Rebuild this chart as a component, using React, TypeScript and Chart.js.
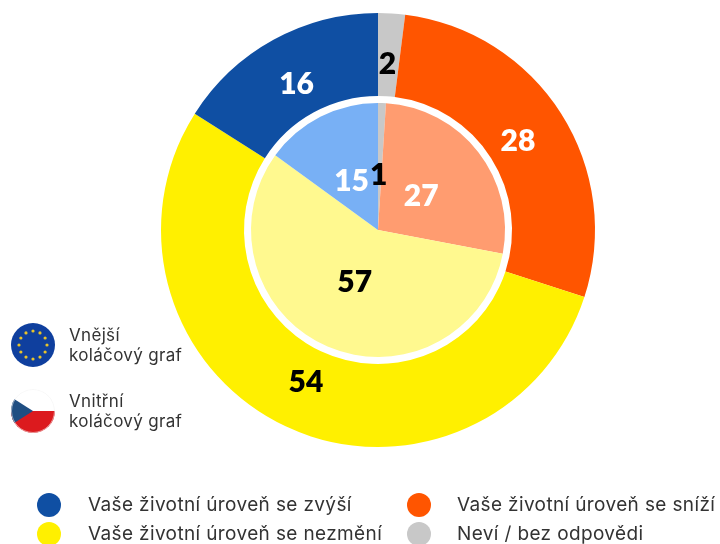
import React, { useEffect, useRef } from "react";
import { Chart, registerables } from "chart.js";

Chart.register(...registerables);

const categories = [
  "Neví / bez odpovědi",
  "Vaše životní úroveň se sníží",
  "Vaše životní úroveň se nezmění",
  "Vaše životní úroveň se zvýší",
];
const outerValues = [2, 28, 54, 16];
const innerValues = [1, 27, 57, 15];
const outerColors = ["#C8C8C8", "#FF5500", "#FFF000", "#0F4FA3"];
const innerColors = ["#C8C8C8", "#FF9C70", "#FFF98F", "#78B0F5"];
const outerLabelColors = ["#000000", "#FFFFFF", "#000000", "#FFFFFF"];
const innerLabelColors = ["#000000", "#FFFFFF", "#000000", "#FFFFFF"];
const legendRows = [
  [3, 1],
  [2, 0],
];
const euStars = [0, 1, 2, 3, 4, 5, 6, 7, 8, 9, 10, 11];
const FONT = "Lato, 'Noto Sans', sans-serif";
const TEXT_FONT = "Inter, 'Noto Sans', sans-serif";

const valueLabels = {
  id: "valueLabels",
  afterDatasetsDraw(chart: any) {
    const { ctx } = chart;
    const draw = (idx: number, values: number[], colors: string[], radius: number) => {
      chart.getDatasetMeta(idx).data.forEach((arc: any, i: number) => {
        const mid = (arc.startAngle + arc.endAngle) / 2;
        ctx.save();
        ctx.font = `800 30px ${FONT}`;
        ctx.fillStyle = colors[i];
        ctx.textAlign = "center";
        ctx.textBaseline = "middle";
        ctx.fillText(String(values[i]), arc.x + Math.cos(mid) * radius - 1, arc.y + Math.sin(mid) * radius + 1);
        ctx.restore();
      });
    };
    draw(0, outerValues, outerLabelColors, 167);
    draw(2, innerValues, innerLabelColors, 56);
  },
};

function Flag({ kind, top }: { kind: "eu" | "cz"; top: number }) {
  return (
    <svg width="44" height="44" viewBox="0 0 44 44" style={{ position: "absolute", left: 11, top }}>
      <defs>
        <clipPath id={`clip-${kind}`}>
          <circle cx="22" cy="22" r="22" />
        </clipPath>
      </defs>
      {kind === "eu" ? (
        <g>
          <circle cx="22" cy="22" r="22" fill="#0F3F9E" />
          {euStars.map((s) => (
            <circle
              key={s}
              cx={22 + 14 * Math.cos((s * Math.PI) / 6)}
              cy={22 + 14 * Math.sin((s * Math.PI) / 6)}
              r="1.6"
              fill="#E8C42A"
            />
          ))}
        </g>
      ) : (
        <g clipPath={`url(#clip-${kind})`}>
          <rect width="44" height="22" fill="#FFFFFF" />
          <rect y="22" width="44" height="22" fill="#DC1A1E" />
          <path d="M0 8 L22 22 L0 36 Z" fill="#1F4E82" />
          <circle cx="22" cy="22" r="21.5" fill="none" stroke="#F2F2F2" strokeWidth="1" opacity="0.6" />
        </g>
      )}
    </svg>
  );
}

const sideStyle: React.CSSProperties = {
  position: "absolute",
  left: 69,
  fontFamily: TEXT_FONT,
  fontSize: 17,
  lineHeight: "20px",
  letterSpacing: 0.33,
  color: "#333333",
  whiteSpace: "pre",
};

export default function App() {
  const ref = useRef<HTMLCanvasElement>(null);
  useEffect(() => {
    document.body.style.margin = "0";
    const chart = new Chart(ref.current!, {
      type: "pie",
      data: {
        labels: categories,
        datasets: [
          { data: outerValues, backgroundColor: outerColors, borderWidth: 0, weight: 83 },
          { data: [1], backgroundColor: ["rgba(255,255,255,0)"], borderWidth: 0, weight: 7 },
          { data: innerValues, backgroundColor: innerColors, borderWidth: 0, weight: 127 },
        ],
      },
      options: {
        animation: false,
        responsive: false,
        layout: { padding: { left: 161, right: 125, top: 13, bottom: 97 } },
        plugins: { legend: { display: false }, tooltip: { enabled: false } },
      },
      plugins: [valueLabels],
    } as any);
    return () => chart.destroy();
  }, []);

  const legendX = [[49, 88], [419, 457]];
  const legendY = [505, 534];
  return (
    <div style={{ position: "relative", width: 720, height: 544, overflow: "hidden", background: "#fff" }}>
      <canvas ref={ref} width={720} height={544} style={{ display: "block" }} />
      <Flag kind="eu" top={323} />
      <Flag kind="cz" top={389} />
      <div style={{ ...sideStyle, top: 325 }}>{"Vnější\nkoláčový graf"}</div>
      <div style={{ ...sideStyle, top: 391 }}>{"Vnitřní\nkoláčový graf"}</div>
      {legendRows.map((row, r) =>
        row.map((c, k) => (
          <React.Fragment key={c}>
            <div
              style={{
                position: "absolute",
                left: legendX[k][0] - 12,
                top: legendY[r] - 12,
                width: 24,
                height: 24,
                borderRadius: "50%",
                background: outerColors[c],
              }}
            />
            <div
              style={{
                position: "absolute",
                left: legendX[k][1],
                top: legendY[r] - 12,
                lineHeight: "24px",
                fontFamily: TEXT_FONT,
                fontSize: 19,
                letterSpacing: 0.37,
                color: "#333333",
                whiteSpace: "nowrap",
              }}
            >
              {categories[c]}
            </div>
          </React.Fragment>
        ))
      )}
    </div>
  );
}
